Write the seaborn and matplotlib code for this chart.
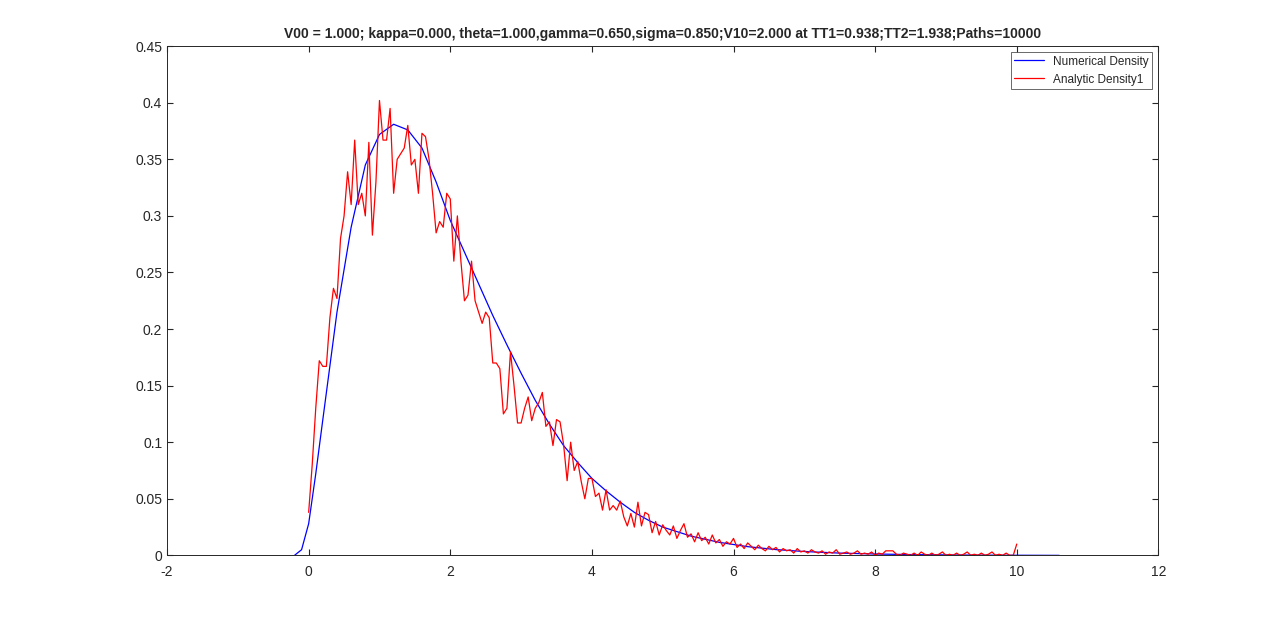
import numpy as np
import matplotlib
matplotlib.use("Agg")
import matplotlib.pyplot as plt
import seaborn as sns

# numerical density (smooth)
blue_x = [-0.2, -0.1, 0.0, 0.1, 0.2, 0.4, 0.6, 0.8, 1.0, 1.2, 1.4, 1.6, 1.8, 2.0, 2.2, 2.4,
          2.6, 2.8, 3.0, 3.2, 3.4, 3.6, 3.8, 4.0, 4.2, 4.4, 4.6, 4.8, 5.0, 5.4, 5.8, 6.2,
          6.6, 7.0, 7.5, 8.0, 8.5, 9.0, 9.5, 10.0, 10.6]
blue_y = [0.0, 0.005, 0.028, 0.072, 0.12, 0.215, 0.29, 0.345, 0.372, 0.381, 0.376, 0.360,
          0.330, 0.296, 0.268, 0.240, 0.212, 0.186, 0.161, 0.137, 0.116, 0.097, 0.082,
          0.068, 0.057, 0.047, 0.038, 0.031, 0.025, 0.017, 0.0115, 0.0077, 0.0051,
          0.0034, 0.002, 0.0012, 0.0007, 0.0004, 0.0002, 0.0001, 0.0]

# analytic density (noisy), every 0.05 from 0 to 10
red_y = [
    0.038, 0.08, 0.13, 0.172, 0.167, 0.167, 0.21, 0.236, 0.227, 0.28,
    0.30, 0.339, 0.31, 0.367, 0.31, 0.32, 0.30, 0.365, 0.283, 0.33,
    0.402, 0.367, 0.367, 0.395, 0.32, 0.35, 0.355, 0.36, 0.38, 0.345,
    0.35, 0.32, 0.373, 0.37, 0.35, 0.32, 0.285, 0.295, 0.29, 0.32,
    0.315, 0.26, 0.30, 0.26, 0.225, 0.23, 0.26, 0.225, 0.215, 0.205,
    0.215, 0.21, 0.17, 0.17, 0.165, 0.125, 0.13, 0.18, 0.15, 0.117,
    0.117, 0.13, 0.14, 0.119, 0.13, 0.135, 0.144, 0.114, 0.118, 0.097,
    0.12, 0.118, 0.098, 0.066, 0.10, 0.075, 0.083, 0.065, 0.05, 0.068,
    0.068, 0.052, 0.055, 0.040, 0.058, 0.040, 0.044, 0.040, 0.048, 0.034,
    0.026, 0.037, 0.025, 0.047, 0.026, 0.038, 0.036, 0.020, 0.030, 0.018,
    0.027, 0.022, 0.018, 0.026, 0.015, 0.022, 0.028, 0.016, 0.019, 0.012,
    0.020, 0.013, 0.016, 0.010, 0.018, 0.011, 0.014, 0.008, 0.012, 0.010,
    0.015, 0.007, 0.010, 0.006, 0.011, 0.008, 0.005, 0.009, 0.006, 0.004,
    0.008, 0.005, 0.007, 0.003, 0.006, 0.004, 0.005, 0.002, 0.006, 0.003,
    0.004, 0.002, 0.005, 0.003, 0.002, 0.004, 0.001, 0.003, 0.002, 0.005,
    0.001, 0.002, 0.003, 0.001, 0.002, 0.004, 0.001, 0.002, 0.001, 0.003,
    0.0, 0.002, 0.001, 0.004, 0.004, 0.004, 0.001, 0.0, 0.002, 0.001,
    0.0, 0.002, 0.0, 0.003, 0.001, 0.0, 0.002, 0.0, 0.001, 0.003,
    0.0, 0.001, 0.0, 0.002, 0.0, 0.001, 0.003, 0.0, 0.001, 0.0,
    0.002, 0.0, 0.001, 0.003, 0.0, 0.001, 0.0, 0.002, 0.0, 0.0,
    0.010,
]
red_x = [round(0.05 * i, 2) for i in range(len(red_y))]

sns.set_style("white")
plt.rcParams['font.family'] = ['Liberation Sans', 'DejaVu Sans']
plt.rcParams['axes.unicode_minus'] = False

fig, ax = plt.subplots(figsize=(12.8, 6.24), dpi=100)
fig.subplots_adjust(left=0.1305, right=0.905, top=0.926, bottom=0.11)

sns.lineplot(x=blue_x, y=blue_y, ax=ax, color='blue', linewidth=0.9, label='Numerical Density')
sns.lineplot(x=red_x, y=red_y, ax=ax, color='red', linewidth=0.9, label='Analytic Density1')

ax.set_xlim(-2, 12)
ax.set_ylim(0, 0.45)
ax.set_xticks(range(-2, 13, 2))
ax.set_yticks(np.arange(0, 0.451, 0.05))
ax.set_yticklabels(['0', '0.05', '0.1', '0.15', '0.2', '0.25', '0.3', '0.35', '0.4', '0.45'])
ax.tick_params(direction='in', length=4, labelsize=10, colors='#262626',
               top=True, right=True, bottom=True, left=True)
ax.tick_params(axis='x', pad=7)
for s in ax.spines.values():
    s.set_color('#262626')
    s.set_linewidth(0.7)
ax.set_title('V00 = 1.000; kappa=0.000, theta=1.000,gamma=0.650,sigma=0.850;V10=2.000 at TT1=0.938;TT2=1.938;Paths=10000',
             fontsize=10, fontweight='bold')
leg = ax.legend(loc='upper right', fontsize=8.5, frameon=True, fancybox=False,
                borderpad=0.3, handlelength=2.5)
leg.get_frame().set_edgecolor('#262626')
leg.get_frame().set_linewidth(0.6)

plt.savefig('out.png', dpi=100)
